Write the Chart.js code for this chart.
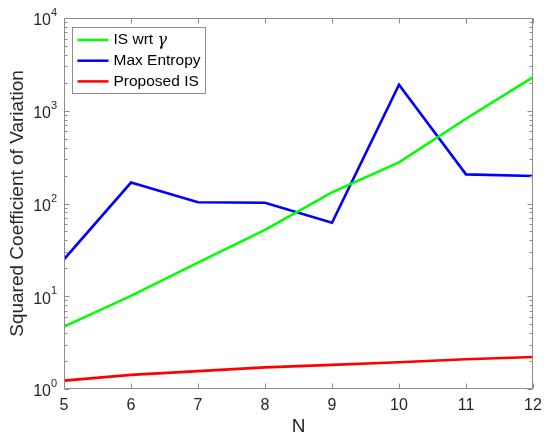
<!DOCTYPE html>
<html><head><meta charset="utf-8">
<script src="https://cdn.jsdelivr.net/npm/chart.js@4"></script>
<style>html,body{margin:0;padding:0;background:#fff}#wrap{width:544px;height:435px;position:relative}</style>
</head><body><div id="wrap"><canvas id="c" width="544" height="435"></canvas></div>
<script>
// ---- data ----
const nValues = [5, 6, 7, 8, 9, 10, 11, 12];
const isWrtGamma = [4.7, 10.1, 23, 52, 132, 278, 820, 2300];
const maxEntropy = [25, 168, 103, 102, 62, 1910, 206, 198];
const proposedIS = [1.23, 1.42, 1.56, 1.71, 1.82, 1.94, 2.09, 2.21];
const seriesLabels = ['IS wrt γ', 'Max Entropy', 'Proposed IS'];
const xTickValues = [5, 6, 7, 8, 9, 10, 11, 12];
const yDecades = [0, 1, 2, 3, 4];
const xTitle = 'N';
const yTitle = 'Squared Coefficient of Variation';

const FONT = '"Liberation Sans", Arial, Helvetica, sans-serif';
const AXIS = '#8c8c8c';
const TEXT = '#262626';

function pts(ys){ return nValues.map((n,i)=>({x:n, y:ys[i]})); }

const matlabAxes = {
  id: 'matlabAxes',
  afterDatasetsDraw(chart){
    const ctx = chart.ctx, a = chart.chartArea, xs = chart.scales.x, ys = chart.scales.y;
    const L = Math.round(a.left)+0.5, R = Math.round(a.right)-0.5, T = Math.round(a.top)+0.5, B = Math.round(a.bottom)-0.5;
    ctx.save();
    ctx.strokeStyle = AXIS; ctx.lineWidth = 1;
    ctx.beginPath();
    ctx.rect(L, T, R-L, B-T);
    xTickValues.forEach(v=>{
      const px = Math.round(xs.getPixelForValue(v))+0.5;
      ctx.moveTo(px, B); ctx.lineTo(px, B-5);
      ctx.moveTo(px, T); ctx.lineTo(px, T+5);
    });
    for (let k = yDecades[0]; k <= yDecades[yDecades.length-1]; k++){
      for (let m = 1; m < 10; m++){
        if (k === yDecades[yDecades.length-1] && m > 1) break;
        const py = Math.round(ys.getPixelForValue(m*Math.pow(10,k)))+0.5;
        const len = m === 1 ? 5 : 3;
        ctx.moveTo(L, py); ctx.lineTo(L+len, py);
        ctx.moveTo(R, py); ctx.lineTo(R-len, py);
      }
    }
    ctx.stroke();

    // x tick labels
    ctx.fillStyle = TEXT;
    ctx.font = '16px ' + FONT;
    ctx.textAlign = 'center'; ctx.textBaseline = 'middle';
    xTickValues.forEach(v=>{
      ctx.fillText(String(v), xs.getPixelForValue(v), a.bottom + 17);
    });
    // y tick labels 10^k
    yDecades.forEach(k=>{
      const py = ys.getPixelForValue(Math.pow(10,k));
      ctx.font = '16px ' + FONT;
      ctx.textAlign = 'right'; ctx.textBaseline = 'middle';
      ctx.fillText('10', a.left - 13, py + 3);
      ctx.font = '11px ' + FONT;
      ctx.textAlign = 'left';
      ctx.fillText(String(k), a.left - 13, py - 5);
    });

    // legend
    const bx = Math.round(a.left) + 8.5, by = Math.round(a.top) + 9.5, bw = 133, bh = 66;
    ctx.fillStyle = '#fff';
    ctx.fillRect(bx, by, bw, bh);
    ctx.strokeStyle = AXIS; ctx.lineWidth = 1;
    ctx.strokeRect(bx, by, bw, bh);
    chart.data.datasets.forEach((ds, i)=>{
      const y = by + 12.5 + i*20.7;
      ctx.strokeStyle = ds.borderColor; ctx.lineWidth = 2.5;
      ctx.beginPath(); ctx.moveTo(bx+5, y); ctx.lineTo(bx+36, y); ctx.stroke();
      ctx.fillStyle = '#000';
      ctx.textAlign = 'left'; ctx.textBaseline = 'middle';
      const label = ds.label;
      const gi = label.indexOf('γ');
      let x = bx + 41;
      if (gi >= 0){
        const pre = label.slice(0, gi);
        ctx.font = '15.5px ' + FONT;
        ctx.fillText(pre, x, y);
        x += ctx.measureText(pre).width;
        ctx.font = 'italic 16px "DejaVu Serif", "Liberation Serif", serif';
        ctx.fillText('γ', x, y + 1);
      } else {
        ctx.font = '15.5px ' + FONT;
        ctx.fillText(label, x, y);
      }
    });
    ctx.restore();
  }
};

new Chart(document.getElementById('c'), {
  type: 'line',
  data: {
    datasets: [
      { label: seriesLabels[0], data: pts(isWrtGamma), borderColor: '#00ff00', backgroundColor: '#00ff00' },
      { label: seriesLabels[1], data: pts(maxEntropy), borderColor: '#0000ff', backgroundColor: '#0000ff' },
      { label: seriesLabels[2], data: pts(proposedIS), borderColor: '#ff0000', backgroundColor: '#ff0000' }
    ]
  },
  options: {
    responsive: false,
    animation: false,
    devicePixelRatio: 1,
    layout: { padding: { top: 18, right: 11, left: 0, bottom: 0 } },
    elements: { line: { borderWidth: 2.6, tension: 0 }, point: { radius: 0, hoverRadius: 0 } },
    plugins: { legend: { display: false }, tooltip: { enabled: false } },
    scales: {
      x: {
        type: 'linear', min: 5, max: 12,
        grid: { display: false }, border: { display: false },
        ticks: { display: false },
        title: { display: true, text: xTitle, color: TEXT, font: { family: FONT, size: 19, lineHeight: 1 }, padding: { top: 0, bottom: -1 } },
        afterFit(s){ s.height = 46; }
      },
      y: {
        type: 'logarithmic', min: 1, max: 10000,
        grid: { display: false }, border: { display: false },
        ticks: { display: false },
        title: { display: true, text: yTitle, color: TEXT, font: { family: FONT, size: 19 }, padding: { top: 6, bottom: 0 } },
        afterFit(s){ s.width = 64; }
      }
    }
  },
  plugins: [matlabAxes]
});
</script>
</body></html>
